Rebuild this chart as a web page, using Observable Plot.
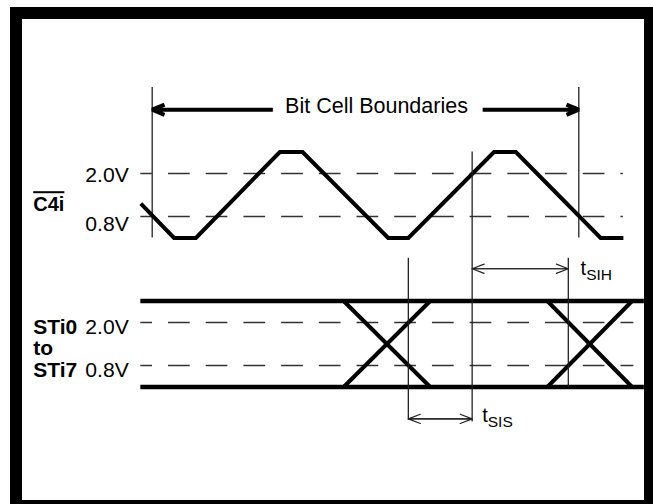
<!DOCTYPE html>
<html>
<head>
<meta charset="utf-8">
<script src="https://cdn.jsdelivr.net/npm/d3@7"></script>
<script src="https://cdn.jsdelivr.net/npm/@observablehq/plot@0.6"></script>
<style>
html, body { margin:0; padding:0; background:#fff; }
#stage { position:relative; width:653px; height:504px; overflow:hidden; }
#frame { position:absolute; left:10px; top:7px; width:643px; height:497px; box-sizing:border-box;
  border-style:solid; border-color:#000; border-width:12px 9px 4px 12px; background:#fff; }
#stage svg { position:absolute; left:0; top:0; }
</style>
</head>
<body>
<div id="stage"><div id="frame"></div></div>
<script>
// ---- data: time in ns (0 = first bit-cell boundary), levels in volts ----
const bitCellBounds = [0, 488];
const bitCellTitle = "Bit Cell Boundaries";
const c4iTime = [-13, 25, 50, 146, 172, 270, 293, 391, 416, 513, 539];
const c4iVolt = [1.16, 0.2, 0.2, 2.6, 2.6, 0.2, 0.2, 2.6, 2.6, 0.2, 0.2];
const thresholdVolts = [2.0, 0.8];
const thresholdLabels = ["2.0V", "0.8V"];
const c4iName = "C4i";
const stiName = "STi0\nto\nSTi7";
const stiSpan = [-13, 563];
const stiLevels = [2.6, 0.2];
const stiTransStart = [219, 452];
const stiTransEnd = [318, 549];
const setupStart = 293;   // STi data valid
const sampleTime = 366;   // C4i rising edge crossing 2.0V
const holdEnd = 476;      // end of STi hold
const timingNames = ["SIH", "SIS"];

// ---- derived tables ----
const c4iData = c4iTime.map((t, i) => ({t, v: c4iVolt[i]}));
const xLinks = stiTransStart.flatMap((s, i) => [
  {x1: s, x2: stiTransEnd[i], y1: stiLevels[0], y2: stiLevels[1]},
  {x1: s, x2: stiTransEnd[i], y1: stiLevels[1], y2: stiLevels[0]}
]);

const font = "Liberation Sans, Arial, Helvetica, sans-serif";
const xScale = {domain: bitCellBounds, range: [151.7, 578.3], axis: null};
const base = {width: 653, height: 504, margin: 0,
  style: "background:transparent;overflow:visible;", x: xScale};
const dash = {stroke: "#333", strokeWidth: 1.4, strokeDasharray: "21.7 16", strokeDashoffset: 10};
const thin = {stroke: "#222", strokeWidth: 1.3};

// ---- C4i panel ----
const arrowY = 3.78;
const chartA = Plot.plot({
  ...base,
  y: {domain: [0.8, 2.0], range: [216, 173], axis: null},
  marks: [
    Plot.ruleX(bitCellBounds, {x: d => d, y1: 0.2, y2: 4.4, ...thin}),
    Plot.ruleY(thresholdVolts, {y: d => d, x1: c4iTime[0], x2: c4iTime[c4iTime.length - 1], ...dash}),
    Plot.line(c4iData, {x: "t", y: "v", stroke: "#000", strokeWidth: 4,
      strokeLinejoin: "miter", strokeLinecap: "butt", strokeMiterlimit: 4}),
    Plot.arrow([{a: 138, b: bitCellBounds[0]}, {a: 378, b: bitCellBounds[1]}],
      {x1: "a", x2: "b", y1: arrowY, y2: arrowY, stroke: "#000", strokeWidth: 4,
       headLength: 5, headAngle: 45, strokeLinecap: "butt"}),
    Plot.text([bitCellTitle], {text: d => d, x: (bitCellBounds[0] + bitCellBounds[1]) / 2, y: arrowY,
      dx: 11, dy: 3, lineAnchor: "bottom", fontSize: 21.5, fontFamily: font, fill: "#000"}),
    Plot.text([thresholdLabels[0]], {text: d => d, x: c4iTime[0], y: thresholdVolts[0], dx: -12, dy: 8.7,
      textAnchor: "end", lineAnchor: "bottom", fontSize: 20, fontFamily: font, fill: "#000"}),
    Plot.text([thresholdLabels[1]], {text: d => d, x: c4iTime[0], y: thresholdVolts[1], dx: -12, dy: 14,
      textAnchor: "end", lineAnchor: "bottom", fontSize: 20, fontFamily: font, fill: "#000"}),
    Plot.text([c4iName], {text: d => d, x: c4iTime[0], y: thresholdVolts[1], dx: -107.6, dy: -5.3,
      textAnchor: "start", lineAnchor: "bottom", fontSize: 20, fontWeight: "bold", fontFamily: font, fill: "#000"})
  ]
});

// ---- STi panel + timing ----
const tsihY = 3.5, tsisY = -0.69;
const thinArrow = {stroke: "#222", strokeWidth: 1.2, headLength: 16, headAngle: 42};
const chartB = Plot.plot({
  ...base,
  y: {domain: [0.8, 2.0], range: [365, 322], axis: null},
  marks: [
    Plot.ruleY(thresholdVolts, {y: d => d, x1: stiSpan[0], x2: 551, ...dash}),
    Plot.ruleY(stiLevels, {y: d => d, x1: stiSpan[0], x2: stiSpan[1], stroke: "#000", strokeWidth: 4.3}),
    Plot.link(xLinks, {x1: "x1", x2: "x2", y1: "y1", y2: "y2", stroke: "#000", strokeWidth: 4, strokeLinecap: "butt"}),
    Plot.ruleX([
      {t: sampleTime, top: 6.76, bottom: -0.78},
      {t: setupStart, top: 3.79, bottom: -0.72},
      {t: holdEnd, top: 3.79, bottom: stiLevels[1]}
    ], {x: "t", y1: "top", y2: "bottom", ...thin}),
    Plot.arrow([{a: sampleTime, b: holdEnd}, {a: holdEnd, b: sampleTime}],
      {x1: "a", x2: "b", y1: tsihY, y2: tsihY, ...thinArrow}),
    Plot.arrow([{a: setupStart, b: sampleTime}, {a: sampleTime, b: setupStart}],
      {x1: "a", x2: "b", y1: tsisY, y2: tsisY, ...thinArrow}),
    Plot.text(["t"], {text: d => d, x: holdEnd, y: tsihY, dx: 12.3, dy: 6.7,
      textAnchor: "start", lineAnchor: "bottom", fontSize: 20, fontFamily: font, fill: "#000"}),
    Plot.text([timingNames[0]], {text: d => d, x: holdEnd, y: tsihY, dx: 17.9, dy: 11,
      textAnchor: "start", lineAnchor: "bottom", fontSize: 15.5, fontFamily: font, fill: "#000"}),
    Plot.text(["t"], {text: d => d, x: sampleTime, y: tsisY, dx: 10, dy: 3.4,
      textAnchor: "start", lineAnchor: "bottom", fontSize: 20, fontFamily: font, fill: "#000"}),
    Plot.text([timingNames[1]], {text: d => d, x: sampleTime, y: tsisY, dx: 15.6, dy: 8.4,
      textAnchor: "start", lineAnchor: "bottom", fontSize: 15.5, fontFamily: font, fill: "#000"}),
    Plot.text([thresholdLabels[0]], {text: d => d, x: stiSpan[0], y: thresholdVolts[0], dx: -12, dy: 11.3,
      textAnchor: "end", lineAnchor: "bottom", fontSize: 20, fontFamily: font, fill: "#000"}),
    Plot.text([thresholdLabels[1]], {text: d => d, x: stiSpan[0], y: thresholdVolts[1], dx: -12, dy: 11,
      textAnchor: "end", lineAnchor: "bottom", fontSize: 20, fontFamily: font, fill: "#000"}),
    Plot.text([stiName], {text: d => d, x: stiSpan[0], y: thresholdVolts[1], dx: -107.6, dy: 11,
      textAnchor: "start", lineAnchor: "bottom", lineHeight: 1.02, fontSize: 21, fontWeight: "bold",
      fontFamily: font, fill: "#000"})
  ]
});

// overline on the active-low clock name; slightly narrower voltage labels as in the original
chartA.querySelectorAll("text").forEach(t => {
  if (t.textContent === c4iName) t.style.textDecoration = "overline";
});
[chartA, chartB].forEach(svg => svg.querySelectorAll("text").forEach(t => {
  if (thresholdLabels.includes(t.textContent)) {
    t.setAttribute("textLength", 43.5);
    t.setAttribute("lengthAdjust", "spacingAndGlyphs");
  }
}));

const stage = document.getElementById("stage");
stage.appendChild(chartA);
stage.appendChild(chartB);
</script>
</body>
</html>
